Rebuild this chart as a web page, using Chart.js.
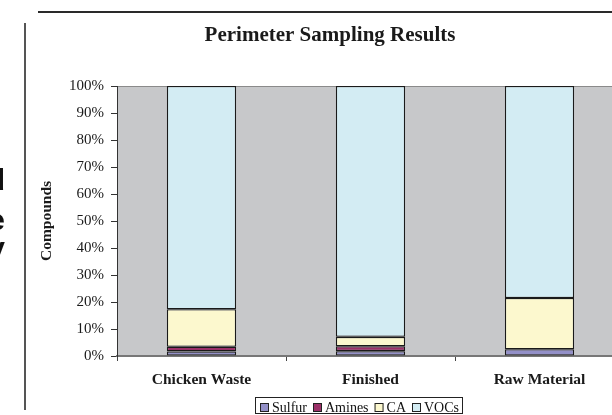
<!DOCTYPE html>
<html>
<head>
<meta charset="utf-8">
<script src="https://cdn.jsdelivr.net/npm/chart.js@4.4.1/dist/chart.umd.min.js"></script>
<style>
  html, body { margin:0; padding:0; background:#fff; width:612px; height:415px; overflow:hidden; }
  #wrap { position:absolute; left:0; top:0; width:640px; height:415px; }
  .deco { position:absolute; background:#2a2a2a; }
  .frag { position:absolute; left:-40px; width:45px; text-align:right; font:bold 30px "Liberation Sans", Arial, sans-serif; line-height:30px; color:#111; }
</style>
</head>
<body>
<div id="wrap"><canvas id="c" width="640" height="415"></canvas></div>
<div class="deco" style="left:38px; top:11px; width:574px; height:1.5px;"></div>
<div class="deco" style="left:24px; top:23px; width:1.5px; height:387px; background:#555;"></div>
<div class="frag" style="top:165px;">d</div>
<div class="frag" style="top:205px;">e</div>
<div class="frag" style="top:233px;">y</div>
<script>
const categories = ['Chicken Waste', 'Finished', 'Raw Material'];
const seriesNames = ['Sulfur', 'Amines', 'CA', 'VOCs'];
const sulfur = [1.7, 1.8, 2.5];
const amines = [1.7, 1.8, 0];
const ca = [13.9, 3.5, 19.0];
const vocs = [82.7, 92.9, 78.5];
const yTicks = [0, 10, 20, 30, 40, 50, 60, 70, 80, 90, 100];

const colors = ['#9390C8', '#9B3068', '#FCF8CE', '#D3ECF3'];
const values = [sulfur, amines, ca, vocs];
const serif = '"Liberation Serif", "Times New Roman", serif';

const plotBg = {
  id: 'plotBg',
  beforeDraw(chart) {
    const a = chart.chartArea, ctx = chart.ctx;
    ctx.save();
    ctx.fillStyle = '#C7C8CA';
    ctx.fillRect(a.left, a.top, a.right - a.left, a.bottom - a.top);
    ctx.strokeStyle = '#8a8a8a';
    ctx.lineWidth = 1;
    ctx.strokeRect(a.left + 0.5, a.top + 0.5, a.right - a.left, a.bottom - a.top);
    ctx.restore();
  }
};

const boxLegend = {
  id: 'boxLegend',
  afterDraw(chart) {
    const ctx = chart.ctx;
    ctx.save();
    ctx.font = '14px ' + serif;
    ctx.textBaseline = 'alphabetic';
    let x = 260;
    const ys = 403, box = 9, base = 411.5;
    chart.data.datasets.forEach((ds, i) => {
      ctx.fillStyle = ds.backgroundColor;
      ctx.fillRect(x, ys, box, box);
      ctx.strokeStyle = '#222';
      ctx.lineWidth = 1;
      ctx.strokeRect(x + 0.5, ys + 0.5, box - 1, box - 1);
      x += box + 3;
      ctx.fillStyle = '#111';
      ctx.fillText(ds.label, x, base);
      x += ctx.measureText(ds.label).width;
      if (i < chart.data.datasets.length - 1) x += 6;
    });
    ctx.strokeStyle = '#222';
    ctx.lineWidth = 1;
    ctx.strokeRect(255.5, 397.5, Math.round(x + 3 - 255), 16);
    ctx.restore();
  }
};

new Chart(document.getElementById('c'), {
  type: 'bar',
  data: {
    labels: categories,
    datasets: seriesNames.map((n, i) => ({
      label: n,
      data: values[i],
      backgroundColor: colors[i],
      borderColor: '#1a1a1a',
      borderWidth: 1.3,
      borderSkipped: false,
      barPercentage: 0.41,
      categoryPercentage: 1
    }))
  },
  options: {
    responsive: false,
    devicePixelRatio: 1,
    animation: false,
    layout: { padding: { left: 36, right: 16, top: 0, bottom: 19 } },
    plugins: {
      legend: { display: false },
      tooltip: { enabled: false },
      title: {
        display: true,
        text: 'Perimeter Sampling Results',
        color: '#1a1a1a',
        font: { family: serif, size: 21, weight: 'bold' },
        padding: { top: 23, bottom: 37.8 }
      }
    },
    scales: {
      x: {
        stacked: true,
        afterFit(s) { s.height = 40; },
        grid: { display: true, drawOnChartArea: false, drawTicks: true, tickLength: 5, color: '#444', offset: true },
        border: { display: true, color: '#777', width: 2 },
        ticks: {
          color: '#1a1a1a',
          padding: 10,
          font: { family: serif, size: 15.5, weight: 'bold' }
        }
      },
      y: {
        stacked: true,
        min: 0,
        max: 100,
        afterFit(s) { s.width = 81; },
        afterBuildTicks(s) { s.ticks = yTicks.map(v => ({ value: v })); },
        grid: { display: true, drawOnChartArea: false, drawTicks: true, tickLength: 6, color: '#333' },
        border: { display: true, color: '#333', width: 1 },
        ticks: {
          color: '#1a1a1a',
          padding: 7,
          font: { family: serif, size: 15 },
          callback: v => v + '%'
        },
        title: {
          display: true,
          text: 'Compounds',
          color: '#1a1a1a',
          padding: { top: 2, bottom: 0 },
          font: { family: serif, size: 15.5, weight: 'bold' }
        }
      }
    }
  },
  plugins: [plotBg, boxLegend]
});
</script>
</body>
</html>
